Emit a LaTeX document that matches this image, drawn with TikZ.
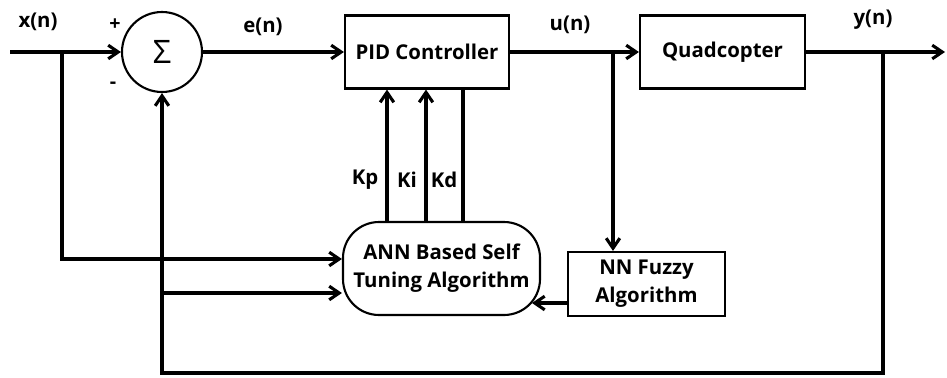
\documentclass[tikz,border=0pt]{standalone}
\usepackage{fontspec}
\setmainfont{Open Sans}
\usetikzlibrary{arrows.meta,positioning}

\begin{document}
\begin{tikzpicture}[
  font=\fontsize{14.5}{20}\selectfont\bfseries,
  >={Straight Barb[length=2.5mm,width=3.4mm]},
  line width=2.2pt,
  box/.style={draw, line width=1.5pt, align=center, inner sep=2pt},
  sumnode/.style={draw, circle, line width=1.5pt, minimum size=2cm, inner sep=0pt},
  lbl/.style={inner sep=1pt},
  sgn/.style={inner sep=0pt, font=\fontsize{14}{16}\selectfont\bfseries},
]
\useasboundingbox (0,0) rectangle (23.675,9.425);

\node[sumnode] (sum) at (4.05,8.125) {\fontsize{23}{24}\selectfont\mdseries Σ};
\node[box, minimum width=4.1cm, minimum height=1.825cm] (pid) at (10.675,8.125) {PID Controller};
\node[box, minimum width=4.125cm, minimum height=1.825cm] (quad) at (18.0625,8.125) {Quadcopter};
\node[box, rounded corners=0.9cm, minimum width=4.925cm, minimum height=2.325cm] (ann) at (11.0375,2.7125) {ANN Based Self\\Tuning Algorithm};
\node[box, minimum width=3.925cm, minimum height=1.6cm] (nnf) at (16.1625,2.325) {NN Fuzzy\\Algorithm};

\coordinate (in) at (0.25,8.125);
\coordinate (out) at (23.625,8.125);
\coordinate (xbr) at (1.55,8.125);
\coordinate (ubr) at (15.325,8.125);
\coordinate (ybr) at (22.075,8.125);

% signal labels
\node[lbl] (xn) at (0.95,8.875) {x(n)};
\node[sgn] (plus) at (2.875,8.8) {+};
\node[sgn] (minus) at (2.825,7.3) {-};
\node[lbl] (en) at (6.575,8.75) {e(n)};
\node[lbl] (un) at (14.25,8.8) {u(n)};
\node[lbl] (yn) at (21.825,8.925) {y(n)};
\node[lbl] (kp) at (9.125,4.925) {Kp};
\node[lbl] (ki) at (10.175,4.925) {Ki};
\node[lbl] (kd) at (11.1,4.925) {Kd};

\draw[->] (in) -- (sum);
\draw[->] (sum) -- (pid);
\draw[->] (pid) -- (quad);
\draw[->] (quad) -- (out);
\draw[->] (xbr) |- (ann.west |- 0,2.95);
\draw[->] (ubr) -- (nnf.north -| ubr);
\draw[->] (ybr) -- (ybr |- 0,0.1) -| (sum.south);
\draw[->] (sum.south |- 0,2.1) -- (ann.west |- 0,2.1);
\draw[->] (ann.north -| 9.675,0) -- (pid.south -| 9.675,0);
\draw[->] (ann.north -| 10.65,0) -- (pid.south -| 10.65,0);
\draw (ann.north -| 11.575,0) -- (pid.south -| 11.575,0);
\draw[->] (nnf.west |- 0,1.85) -- ++(-0.875,0);
\end{tikzpicture}
\end{document}
